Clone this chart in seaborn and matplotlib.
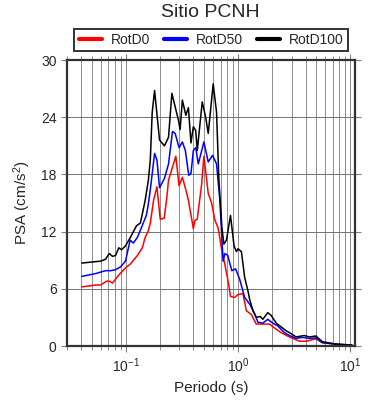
import numpy as np
import pandas as pd
import matplotlib
matplotlib.use("Agg")
import matplotlib.pyplot as plt
from matplotlib.lines import Line2D
import seaborn as sns

# periodos (s) y PSA (cm/s2)
t_d100 = [0.0406, 0.0597, 0.066, 0.0713, 0.0763, 0.0811, 0.0867, 0.0916, 0.0994, 0.110,
          0.1244, 0.135, 0.149, 0.159, 0.1654, 0.172, 0.1806, 0.200, 0.2213, 0.2404,
          0.2576, 0.2944, 0.3048, 0.3193, 0.3428, 0.3614, 0.381, 0.400, 0.420, 0.4335,
          0.480, 0.515, 0.543, 0.601, 0.644, 0.675, 0.718, 0.748, 0.789, 0.857,
          0.922, 0.968, 1.0, 1.072, 1.146, 1.225, 1.269, 1.358, 1.455, 1.578,
          1.664, 1.842, 1.976, 2.19, 2.42, 2.68, 2.97, 3.29, 3.89, 4.31,
          4.94, 5.65, 7.43, 10.35]
psa_d100 = [8.7, 8.9, 9.1, 9.7, 9.4, 9.5, 10.3, 10.1, 10.5, 11.4,
            12.6, 12.9, 15.3, 17.4, 19.5, 24.5, 26.8, 21.6, 21.0, 21.9,
            26.5, 23.7, 22.7, 25.8, 24.2, 25.0, 21.3, 23.0, 22.6, 20.5,
            25.6, 24.0, 22.3, 27.5, 24.5, 17.5, 12.5, 10.7, 11.1, 13.7,
            10.5, 9.9, 10.2, 9.9, 7.2, 5.8, 4.9, 3.7, 3.0, 3.1,
            2.8, 3.5, 3.2, 2.4, 2.0, 1.6, 1.3, 0.95, 1.1, 0.95,
            1.05, 0.45, 0.2, 0.1]

t_d50 = [0.0406, 0.054, 0.066, 0.0733, 0.0811, 0.0898, 0.0994, 0.1094, 0.117, 0.127,
         0.1377, 0.1525, 0.159, 0.167, 0.1806, 0.1896, 0.200, 0.2213, 0.2404, 0.2606,
         0.2754, 0.2985, 0.3193, 0.3396, 0.364, 0.381, 0.400, 0.420, 0.4426, 0.4966,
         0.543, 0.593, 0.644, 0.689, 0.736, 0.765, 0.81, 0.88, 0.95, 1.035,
         1.146, 1.269, 1.406, 1.503, 1.664, 1.842, 2.04, 2.26, 2.59, 2.87,
         3.29, 3.76, 4.31, 4.94, 5.65, 7.43, 10.35]
psa_d50 = [7.3, 7.6, 7.9, 7.9, 8.0, 8.3, 8.9, 11.1, 10.8, 11.4,
           12.4, 13.7, 14.9, 16.8, 20.2, 19.5, 16.6, 17.6, 19.1, 22.5,
           22.3, 20.8, 21.4, 20.5, 17.9, 18.1, 20.5, 20.8, 19.1, 21.4,
           19.3, 20.0, 19.1, 15.3, 8.9, 9.7, 9.5, 7.9, 8.1, 7.0,
           5.1, 4.4, 3.4, 2.5, 2.4, 2.8, 2.4, 2.1, 1.4, 1.1,
           0.8, 0.9, 0.8, 0.85, 0.35, 0.2, 0.1]

t_d0 = [0.0406, 0.054, 0.0597, 0.0675, 0.0718, 0.0763, 0.0861, 0.0994, 0.110, 0.127,
        0.1405, 0.149, 0.159, 0.1654, 0.177, 0.1896, 0.2028, 0.2198, 0.2323, 0.2404,
        0.2793, 0.2985, 0.3193, 0.3443, 0.3614, 0.400, 0.414, 0.4335, 0.4745, 0.4966,
        0.543, 0.582, 0.622, 0.665, 0.713, 0.762, 0.816, 0.857, 0.935, 1.0,
        1.107, 1.186, 1.314, 1.455, 1.664, 1.908, 2.11, 2.42, 2.87, 3.52,
        4.03, 4.94, 5.65, 7.94, 10.35]
psa_d0 = [6.2, 6.4, 6.4, 6.8, 6.8, 6.6, 7.4, 8.2, 8.6, 9.5,
          10.3, 11.4, 12.1, 12.9, 15.3, 16.7, 13.3, 13.4, 15.6, 17.4,
          19.9, 16.8, 17.7, 16.3, 15.3, 12.3, 13.2, 13.3, 17.0, 19.9,
          16.0, 15.0, 13.2, 12.4, 10.2, 8.6, 6.8, 5.2, 5.1, 5.4,
          5.5, 3.7, 3.3, 2.3, 2.3, 2.3, 1.9, 1.4, 0.95, 0.5,
          0.5, 0.75, 0.35, 0.15, 0.05]

componentes = ["RotD0", "RotD50", "RotD100"]
colores = ["#ff0000", "#0000ff", "#000000"]

df = pd.concat([
    pd.DataFrame({"Periodo": t_d0, "PSA": psa_d0, "Componente": "RotD0"}),
    pd.DataFrame({"Periodo": t_d50, "PSA": psa_d50, "Componente": "RotD50"}),
    pd.DataFrame({"Periodo": t_d100, "PSA": psa_d100, "Componente": "RotD100"}),
])

sns.set_style("ticks")
plt.rcParams["font.family"] = ["Liberation Sans", "DejaVu Sans"]
plt.rcParams["mathtext.fontset"] = "custom"
plt.rcParams["mathtext.rm"] = "Liberation Sans"
plt.rcParams["mathtext.it"] = "Liberation Sans:italic"

fig = plt.figure(figsize=(3.9, 4.0), dpi=100)
ax = fig.add_axes([0.172, 0.135, 0.738, 0.715])

sns.lineplot(data=df, x="Periodo", y="PSA", hue="Componente", hue_order=componentes,
             palette=colores, sort=False, estimator=None, lw=1.1, ax=ax, legend=False)

ax.set_xscale("log")
ax.set_xlim(0.03, 11)
ax.set_ylim(0, 30)
ax.set_yticks([0, 6, 12, 18, 24, 30])
ax.grid(which="both", axis="x", color="0.55", lw=0.7)
ax.grid(which="major", axis="y", color="0.45", lw=0.7)
ax.set_axisbelow(True)
ax.tick_params(which="both", direction="out", top=True, right=True, color="0.5",
               labelsize=10)
ax.tick_params(which="major", length=4)
ax.tick_params(which="minor", length=3)
for s in ax.spines.values():
    s.set_linewidth(1.6)
    s.set_color("0.2")

ax.set_xlabel("Periodo (s)", fontsize=11)
ax.set_ylabel("PSA (cm/s$^2$)", fontsize=11, labelpad=6)

handles = [Line2D([], [], color=c, lw=3) for c in colores]
leg = ax.legend(handles, componentes, loc="lower center", bbox_to_anchor=(0.5, 1.03),
                ncol=3, frameon=True, fancybox=False, edgecolor="black", fontsize=10,
                handlelength=1.7, columnspacing=1.0, borderpad=0.3, handletextpad=0.6,
                borderaxespad=0)
leg.get_frame().set_linewidth(1.4)

fig.text(0.54, 0.968, "Sitio PCNH", ha="center", va="center", fontsize=14)

fig.savefig("out.png", dpi=100)
